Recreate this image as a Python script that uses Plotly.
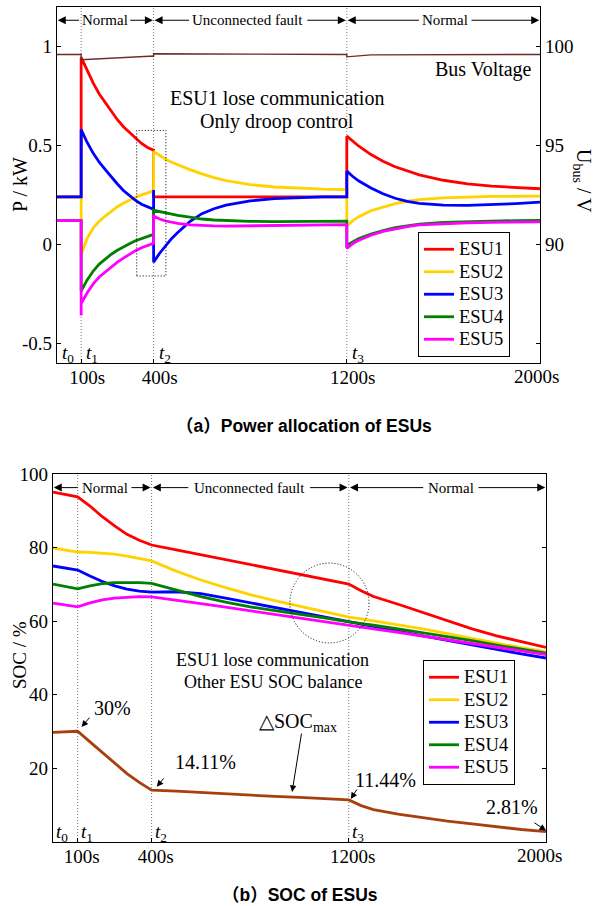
import plotly.graph_objects as go

W, H = 595, 906
SERIF = "Liberation Serif"
SANS = "Liberation Sans, Arial, Noto Sans CJK SC, sans-serif"

# ---------------- data: (a) power allocation ----------------
T_P = [0, 100, 100, 100, 125, 150, 175, 200, 225, 250, 275, 300, 325, 350, 375, 400,
       400, 400, 425, 450, 475, 500, 550, 600, 650, 700, 800, 900, 1000, 1100, 1200,
       1200, 1225, 1250, 1300, 1350, 1400, 1450, 1500, 1600, 1700, 1800, 1900, 2000]

P_ESU1 = [0.24, 0.24, 0.945, 0.945,
          0.88, 0.815, 0.76, 0.715, 0.67, 0.63, 0.595, 0.565, 0.535, 0.51, 0.49, 0.476,
          0.24, 0.24,
          0.24, 0.24, 0.24, 0.24,
          0.24, 0.24, 0.24, 0.24,
          0.24, 0.24, 0.24, 0.24, 0.24,
          0.547,
          0.52, 0.496, 0.454, 0.42, 0.392, 0.37,
          0.351, 0.324, 0.306, 0.294, 0.286, 0.281]
P_ESU2 = [0.24, 0.24, -0.05, -0.05,
          0.03, 0.082, 0.117, 0.143, 0.168, 0.19, 0.208, 0.224, 0.238, 0.25, 0.26, 0.27,
          0.47, 0.47,
          0.448, 0.43, 0.415, 0.402,
          0.378, 0.356, 0.337, 0.322,
          0.302, 0.29, 0.283, 0.279, 0.277,
          0.093,
          0.12, 0.14, 0.17, 0.19, 0.206, 0.218,
          0.226, 0.235, 0.24, 0.242, 0.243, 0.244]
P_ESU3 = [0.24, 0.24, 0.58, 0.58,
          0.515, 0.46, 0.415, 0.378, 0.34, 0.305, 0.272, 0.245, 0.222, 0.203, 0.189, 0.177,
          0.275, -0.09,
          -0.045, -0.005, 0.03, 0.06,
          0.115, 0.155, 0.18, 0.198,
          0.22, 0.231, 0.237, 0.24, 0.24,
          0.37,
          0.343, 0.32, 0.285, 0.256, 0.233, 0.217,
          0.207, 0.198, 0.197, 0.2, 0.206, 0.213]
P_ESU4 = [0.12, 0.12, -0.236, -0.236,
          -0.18, -0.135, -0.1, -0.075, -0.05, -0.03, -0.012, 0.003, 0.018, 0.03, 0.04, 0.05,
          0.172, 0.172,
          0.165, 0.158, 0.152, 0.147,
          0.137, 0.128, 0.123, 0.12,
          0.116, 0.115, 0.116, 0.117, 0.117,
          -0.005,
          0.014, 0.029, 0.052, 0.07, 0.084, 0.094,
          0.102, 0.111, 0.115, 0.118, 0.12, 0.121]
P_ESU5 = [0.12, 0.12, -0.36, -0.30,
          -0.245, -0.2, -0.165, -0.14, -0.115, -0.09, -0.07, -0.05, -0.032, -0.017, -0.005, 0.005,
          0.143, 0.143,
          0.128, 0.118, 0.111, 0.106,
          0.098, 0.094, 0.093, 0.092,
          0.093, 0.095, 0.097, 0.099, 0.1,
          -0.02,
          0.004, 0.021, 0.046, 0.065, 0.079, 0.09,
          0.098, 0.105, 0.109, 0.111, 0.113, 0.114]

T_V = [0, 100, 100, 400, 400, 400, 1200, 1200, 1300, 2000]
U_BUS = [99.6, 99.6, 99.33, 99.52, 99.47, 99.64, 99.6, 99.48, 99.58, 99.6]

# ---------------- data: (b) SOC ----------------
T_S = [0, 100, 150, 200, 250, 300, 350, 400, 500, 600, 700, 800, 900, 1000, 1100, 1200,
       1250, 1300, 1400, 1500, 1600, 1700, 1800, 1900, 2000]
SOC1 = [95.1, 93.8, 91.3, 88.4, 85.9, 83.6, 82.0, 80.7, 79.4, 78.1, 76.7, 75.4, 74.1, 72.8,
        71.4, 70.1, 68.3, 66.7, 64.6, 62.3, 60.0, 57.9, 56.0, 54.4, 52.9]
SOC2 = [79.9, 78.8, 78.7, 78.5, 78.2, 77.7, 77.1, 76.4, 73.6, 71.2, 69.1, 67.2, 65.6, 64.1,
        62.6, 61.1, 60.6, 60.1, 59.1, 57.9, 56.6, 55.3, 54.0, 52.8, 51.7]
SOC3 = [75.0, 73.9, 72.3, 70.8, 69.6, 68.7, 68.2, 67.9, 68.0, 67.5, 66.3, 65.0, 63.7, 62.4,
        61.1, 59.8, 59.1, 58.4, 57.2, 56.0, 54.8, 53.5, 52.3, 51.1, 50.0]
SOC4 = [70.1, 68.8, 69.6, 70.2, 70.5, 70.6, 70.5, 70.3, 68.5, 66.7, 65.2, 63.9, 62.9, 62.0,
        60.9, 59.8, 59.4, 58.9, 57.9, 56.9, 55.8, 54.7, 53.5, 52.4, 51.3]
SOC5 = [64.9, 63.9, 65.0, 65.8, 66.3, 66.6, 66.7, 66.6, 65.8, 64.8, 63.8, 62.8, 61.8, 60.8,
        59.8, 58.7, 58.3, 57.9, 57.0, 56.0, 55.0, 54.0, 53.0, 51.9, 50.9]
DSOC = [29.8, 30.1, 27.2, 24.3, 21.3, 18.6, 16.2, 14.11, 13.8, 13.4, 13.1, 12.8, 12.4, 12.1,
        11.8, 11.44, 9.9, 8.8, 7.6, 6.6, 5.7, 4.9, 4.1, 3.4, 2.81]

NAMES = ["ESU1", "ESU2", "ESU3", "ESU4", "ESU5"]
COLORS = ["#FF0000", "#FFD200", "#0000FF", "#008000", "#FF00FF"]
X_TICKS = [100, 400, 1200]
X_TICKTEXT = ["100s", "400s", "1200s"]
X_END_LABEL = "2000s"


def legend_name(n):
    return "<span style='font-size:18.5px'>%s</span>" % n


fig = go.Figure()
for name, vals, col in zip(NAMES, [P_ESU1, P_ESU2, P_ESU3, P_ESU4, P_ESU5], COLORS):
    fig.add_trace(go.Scatter(x=T_P, y=vals, mode="lines", name=legend_name(name),
                             line=dict(color=col, width=2.8), xaxis="x", yaxis="y",
                             legend="legend"))
fig.add_trace(go.Scatter(x=T_V, y=U_BUS, mode="lines", name="Bus Voltage",
                         line=dict(color="#6e2a2a", width=1.4), xaxis="x", yaxis="y2",
                         showlegend=False))
for name, vals, col in zip(NAMES, [SOC1, SOC2, SOC3, SOC4, SOC5], COLORS):
    fig.add_trace(go.Scatter(x=T_S, y=vals, mode="lines", name=legend_name(name),
                             line=dict(color=col, width=2.8), xaxis="x2", yaxis="y3",
                             legend="legend2"))
fig.add_trace(go.Scatter(x=T_S, y=DSOC, mode="lines", name="ΔSOC",
                         line=dict(color="#A8400E", width=2.8), xaxis="x2", yaxis="y3",
                         showlegend=False))

tickfont = dict(family=SERIF, size=19, color="black")
axis_common = dict(showline=True, linecolor="black", linewidth=1.2, ticks="inside",
                   ticklen=4, tickcolor="black", showgrid=False, zeroline=False,
                   tickfont=tickfont, automargin=False)

fig.update_layout(
    width=W, height=H,
    margin=dict(l=0, r=0, t=0, b=0, pad=0, autoexpand=False),
    font=dict(family=SERIF, size=19, color="black"),
    paper_bgcolor="white", plot_bgcolor="white",
    xaxis=dict(domain=[57 / W, 540 / W], anchor="y", range=[0, 2000],
               tickvals=X_TICKS, ticktext=X_TICKTEXT, ticklabelshift=6,
               ticklabelstandoff=-3, mirror=True, **axis_common),
    yaxis=dict(domain=[1 - 363 / H, 1 - 7 / H], anchor="x", range=[-0.6, 1.2],
               tickvals=[-0.5, 0, 0.5, 1], ticktext=["-0.5", "0", "0.5", "1"],
               **axis_common),
    yaxis2=dict(overlaying="y", side="right", anchor="x", range=[84, 102],
                tickvals=[85, 90, 95, 100], ticktext=["", "90", "95", "100"],
                **axis_common),
    xaxis2=dict(domain=[53 / W, 546 / W], anchor="y3", range=[0, 2000],
                tickvals=X_TICKS, ticktext=X_TICKTEXT, ticklabelshift=4,
                ticklabelstandoff=-3, mirror=True, **axis_common),
    yaxis3=dict(domain=[1 - 842 / H, 1 - 474 / H], anchor="x2", range=[0, 100],
                tickvals=[20, 40, 60, 80, 100], mirror="ticks", **axis_common),
    legend=dict(x=418 / W, y=1 - 294.5 / H, xanchor="left", yanchor="middle",
                bordercolor="black", borderwidth=1, bgcolor="white",
                font=dict(family=SERIF, size=15, color="black"), tracegroupgap=0),
    legend2=dict(x=423 / W, y=1 - 722.5 / H, xanchor="left", yanchor="middle",
                 bordercolor="black", borderwidth=1, bgcolor="white",
                 font=dict(family=SERIF, size=15, color="black"), tracegroupgap=0),
    showlegend=True,
)

DOT = "1px,2px"
shapes = []
for xr, yr in [("x", "y domain"), ("x2", "y3 domain")]:
    for tb in [100, 400, 1200]:
        shapes.append(dict(type="line", xref=xr, yref=yr, x0=tb, x1=tb, y0=0, y1=1,
                           line=dict(color="#777777", width=1, dash=DOT), layer="below"))
shapes.append(dict(type="rect", xref="x", yref="y", x0=330, x1=451, y0=-0.16, y1=0.576,
                   line=dict(color="black", width=1, dash=DOT)))
shapes.append(dict(type="circle", xref="x2", yref="y3", x0=961, x1=1282, y0=54.1, y1=75.8,
                   line=dict(color="black", width=1, dash=DOT)))
fig.update_layout(shapes=shapes)

ann = []


def text(x, y, s, xref, yref, size=19, **kw):
    d = dict(x=x, y=y, xref=xref, yref=yref, text=s, showarrow=False,
             xanchor="center", yanchor="middle",
             font=dict(family=kw.pop("family", SERIF), size=size, color="black"))
    d.update(kw)
    ann.append(d)


def arrow(x, y, ax, ay, xref, yref, size=1.6):
    ann.append(dict(x=x, y=y, ax=ax, ay=ay, xref=xref, yref=yref, axref=xref, ayref=yref,
                    text="", showarrow=True, arrowhead=2, arrowsize=size, arrowwidth=1,
                    arrowcolor="black", standoff=0, startstandoff=0))


# last x tick label (sits just inside the right border, as in the reference)
text(2000, -0.6, X_END_LABEL, "x", "y", size=19, yanchor="top", xshift=-4, yshift=-1)
text(2000, 0, X_END_LABEL, "x2", "y3", size=19, yanchor="top", xshift=-7, yshift=-1)

# header arrows (a)
YH = 1.133
text(197, YH, "Normal", "x", "y", size=15)
text(789, YH, "Unconnected fault", "x", "y", size=15)
text(1607, YH, "Normal", "x", "y", size=15)
for tail, tip in [(97, 3), (297, 397), (553, 404), (1030, 1196), (1505, 1204), (1710, 1997)]:
    arrow(tip, YH, tail, YH, "x", "y")
# header arrows (b)
YH2 = 96.3
text(209, YH2, "Normal", "x2", "y3", size=15)
text(796, YH2, "Unconnected fault", "x2", "y3", size=15)
text(1614, YH2, "Normal", "x2", "y3", size=15)
for tail, tip in [(106, 3), (312, 396), (555, 405), (1037, 1195), (1508, 1205), (1720, 1997)]:
    arrow(tip, YH2, tail, YH2, "x2", "y3")

# t labels
for tb, lab in [(0, "0"), (100, "1"), (400, "2"), (1200, "3")]:
    s = "<i>t</i><sub>%s</sub>" % lab
    text(tb, -0.6, s, "x", "y", size=19, xanchor="left", yanchor="bottom", xshift=3, yshift=-5)
    text(tb, 0, s, "x2", "y3", size=19, xanchor="left", yanchor="bottom", xshift=1, yshift=-5)

# (a) notes
text(1975, 0.884, "Bus Voltage", "x", "y", size=20, xanchor="right")
text(911, 0.742, "ESU1 lose communication", "x", "y", size=20)
text(911, 0.621, "Only droop control", "x", "y", size=20)

# (b) notes
text(892, 49.5, "ESU1 lose communication", "x2", "y3", size=18)
text(892, 43.5, "Other ESU SOC balance", "x2", "y3", size=18)
text(243, 36.4, "30%", "x2", "y3", size=20)
arrow(116, 31.25, 153, 34.2, "x2", "y3", size=1.3)
text(617, 21.7, "14.11%", "x2", "y3", size=20)
arrow(421, 15.0, 454, 17.7, "x2", "y3", size=1.3)
text(994, 32.6, "△SOC<sub>max</sub>", "x2", "y3", size=20)
arrow(970, 13.6, 1009, 29.9, "x2", "y3", size=1.3)
text(1347, 16.8, "11.44%", "x2", "y3", size=20)
arrow(1208, 11.7, 1237, 14.7, "x2", "y3", size=1.3)
text(1862, 9.6, "2.81%", "x2", "y3", size=20)
arrow(2000, 3.1, 1947, 5.5, "x2", "y3", size=1.3)

# axis titles
text(20 / W, 1 - 185 / H, "P / kW", "paper", "paper", size=20, textangle=-90)
text(583 / W, 1 - 181 / H, "U<sub>bus</sub> / V", "paper", "paper", size=20, textangle=90)
text(19 / W, 1 - 655 / H, "SOC / %", "paper", "paper", size=19, textangle=-90)

# captions
text(304 / W, 1 - 426 / H, "<b>（a）Power allocation of ESUs</b>", "paper", "paper",
     size=17.5, family=SANS)
text(300 / W, 1 - 895 / H, "<b>（b）SOC of ESUs</b>", "paper", "paper",
     size=17.5, family=SANS)

fig.update_layout(annotations=ann)
fig.write_html("out.html")
